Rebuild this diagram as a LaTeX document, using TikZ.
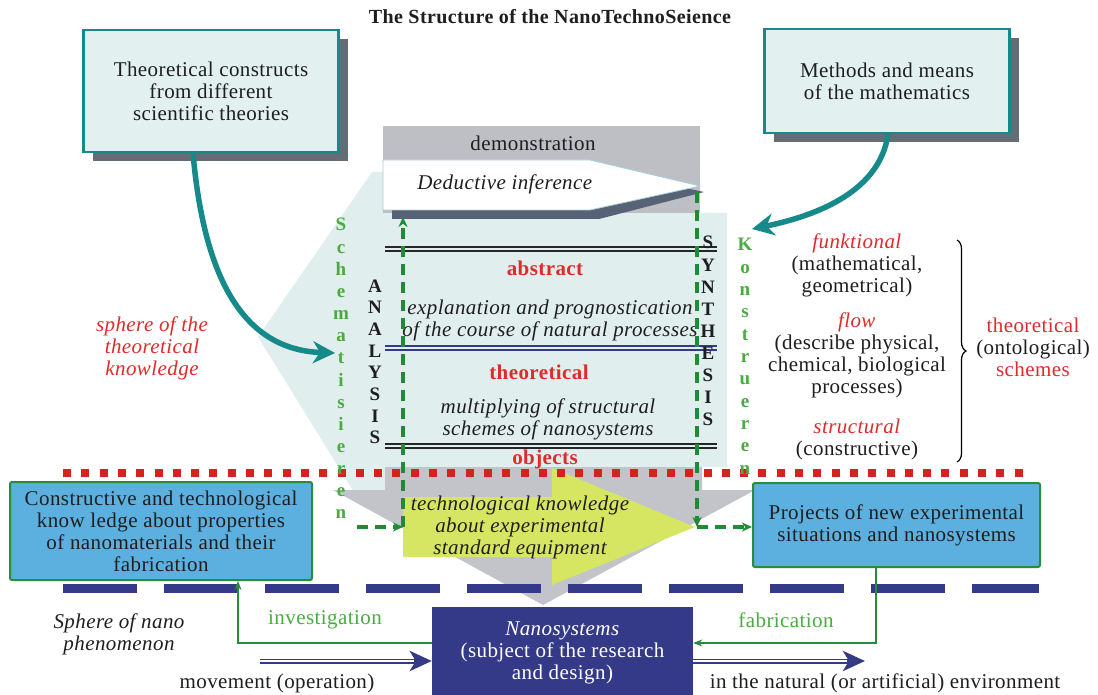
\documentclass[tikz,border=0pt]{standalone}
\usepackage{fontspec}
\setmainfont{Liberation Serif}[LetterSpace=2]
\usetikzlibrary{arrows.meta,positioning,shadows,decorations.pathreplacing}

\definecolor{tealline}{RGB}{22,138,138}
\definecolor{boxcyan}{RGB}{226,240,240}
\definecolor{shadowgrey}{RGB}{100,108,118}
\definecolor{lightcyan}{RGB}{225,238,238}
\definecolor{funnelgrey}{RGB}{194,196,202}
\definecolor{demogrey}{RGB}{190,191,197}
\definecolor{slate}{RGB}{88,98,118}
\definecolor{skyblue}{RGB}{92,176,224}
\definecolor{boxgreen}{RGB}{42,140,58}
\definecolor{navy}{RGB}{52,58,136}
\definecolor{dotred}{RGB}{212,34,30}
\definecolor{textred}{RGB}{222,44,44}
\definecolor{lettergreen}{RGB}{74,172,64}
\definecolor{dashgreen}{RGB}{30,140,52}
\definecolor{yellowgreen}{RGB}{214,230,98}
\definecolor{textdark}{RGB}{30,30,30}

\newcommand{\diagfont}{\fontsize{21}{22}\selectfont}
\newcommand{\letterfont}{\fontsize{19}{19}\selectfont\bfseries}

\tikzset{
	sourcebox/.style={draw=tealline, line width=2.5pt, fill=boxcyan, align=center, text=textdark, font=\diagfont,
		drop shadow={shadow xshift=9pt, shadow yshift=-9pt, fill=shadowgrey, opacity=1}},
	knowbox/.style={draw=boxgreen, line width=2pt, fill=skyblue, rounded corners=2pt, align=center, text=textdark, font=\diagfont},
	levelline/.style={double=lightcyan, double distance=1.4pt, line width=2pt},
	redbold/.style={text=textred, font=\diagfont\bfseries},
	vertletter/.style={font=\letterfont, inner sep=0pt, anchor=base},
	dashgreenarrow/.style={draw=dashgreen, line width=3.2pt, dash pattern=on 11pt off 7pt, -{Stealth[length=10pt,width=9pt]}},
	greenline/.style={draw=boxgreen, line width=1.8pt, -{Stealth[length=9pt,width=7pt]}},
	tealarrow/.style={draw=tealline, line width=5.5pt, -{Stealth[length=22pt,width=22pt,inset=7pt]}},
	navyarrow/.style={draw=navy, line width=5pt, -{Stealth[length=22pt,width=20pt,inset=6pt]}},
}

\begin{document}
\begin{tikzpicture}[x=1pt,y=-1pt, every node/.style={font=\diagfont, text=textdark}]
	\useasboundingbox (0,0) rectangle (1098,695);
	\fill[white] (0,0) rectangle (1098,695);

	% background funnels
	\fill[lightcyan] (372,172) -- (700,172) -- (700,213) -- (727,213) -- (727,467) -- (385,467) -- (385,505) -- (362,505) -- (258,337) -- cycle;
	\fill[funnelgrey] (385,467) -- (702,467) -- (702,490) -- (755,490) -- (543,605) -- (333,490) -- (385,490) -- cycle;
	\fill[demogrey] (383,126) rectangle (700,213);
	\fill[slate] (392,169) -- (599,169) -- (704,192) -- (599,219) -- (392,219) -- cycle;
	\filldraw[fill=white, draw=lightcyan!70!tealline, line width=0.8pt] (383,160) -- (590,160) -- (700,186) -- (590,210) -- (383,210) -- cycle;

	% levels
	\draw[levelline, draw=black!85] (385,249) -- (717,249);
	\draw[levelline, draw=navy] (385,348) -- (717,348);
	\draw[levelline, draw=black!85] (385,446) -- (717,446);

	\fill[yellowgreen] (403,497) -- (552,497) -- (552,468) -- (695,527) -- (552,585) -- (552,557) -- (403,557) -- cycle;

	\draw[dotred, line width=8pt, dash pattern=on 8pt off 10.3pt] (63,473) -- (1030,473);
	\draw[navy, line width=9pt, dash pattern=on 74pt off 27pt] (63,588) -- (1039,588);

	% boxes
	\node[sourcebox, minimum width=255pt, minimum height=122pt] (constructs) at (211,91) {Theoretical constructs\\from different\\scientific theories};
	\node[sourcebox, minimum width=245pt, minimum height=104pt] (mathmeans) at (887,81) {Methods and means\\of the mathematics};
	\node[knowbox, minimum width=302pt, minimum height=98pt] (knowledge) at (161,531) {Constructive and technological\\know ledge about properties\\of nanomaterials and their\\fabrication};
	\node[knowbox, minimum width=287pt, minimum height=84pt] (projects) at (896.5,525) {Projects of new experimental\\situations and nanosystems};
	\node[fill=navy, minimum width=261pt, minimum height=92pt, align=center, text=white] (nano) at (562.5,653) {\textit{Nanosystems}\\(subject of the research\\and design)};

	\node[font=\fontsize{20}{22}\selectfont\bfseries] (title) at (550,17) {The Structure of the NanoTechnoSeience};

	% texts in the scheme
	\node (demo) at (533,143) {demonstration};
	\node (deduct) at (505,184) {\textit{Deductive inference}};
	\node[redbold] (abstract) at (545,268) {abstract};
	\node[align=center, font=\diagfont\itshape] (explain) at (550,320) {explanation and prognostication\\of the course of natural processes};
	\node[redbold] (theoretical) at (539,372) {theoretical};
	\node[align=center, font=\diagfont\itshape] (multiply) at (548,419) {multiplying of structural\\schemes of nanosystems};
	\node[redbold] (objects) at (545,459) {objects};
	\node[align=center, font=\diagfont\itshape] (techknow) at (520,527) {technological knowledge\\about experimental\\standard equipment};

	\foreach \ch [count=\i from 0] in {A,N,A,L,Y,S,I,S}
		\node[vertletter] (analysis\i) at (375,292+21.7*\i) {\ch};
	\foreach \ch [count=\i from 0] in {S,Y,N,T,H,E,S,I,S}
		\node[vertletter] (synthesis\i) at (708,249+22.1*\i) {\ch};
	\foreach \ch [count=\i from 0] in {S,c,h,e,m,a,t,i,s,i,e,r,e,n}
		\node[vertletter, text=lettergreen] (schema\i) at (341,231+22.15*\i) {\ch};
	\foreach \ch [count=\i from 0] in {K,o,n,s,t,r,u,e,r,e,n}
		\node[vertletter, text=lettergreen] (konstr\i) at (745,251+22.3*\i) {\ch};

	% schemes
	\node[align=center] (functional) at (857,265) {\textcolor{textred}{\textit{funktional}}\\(mathematical,\\geometrical)};
	\node[align=center] (flow) at (857,355) {\textcolor{textred}{\textit{flow}}\\(describe physical,\\chemical, biological\\processes)};
	\node[align=center] (structural) at (857,439) {\textcolor{textred}{\textit{structural}}\\(constructive)};
	\coordinate (bracetop) at (957,240);
	\coordinate (bracebot) at (957,462);
	\draw[line width=1.2pt, decorate, decoration={brace, amplitude=9pt}] (bracetop) -- (bracebot);
	\node[align=center] (schemes) at (1033,347) {\textcolor{textred}{theoretical}\\(ontological)\\\textcolor{textred}{schemes}};

	\node[align=center, text=textred, font=\diagfont\itshape] (sphere) at (152,348) {sphere of the\\theoretical\\knowledge};
	\node[align=center, font=\diagfont\itshape] (nanosphere) at (119,634) {Sphere of nano\\phenomenon};

	% teal arrows
	\coordinate (schematip) at (335,353);
	\coordinate (konstrtip) at (752,229);
	\draw[tealarrow] ([xshift=-18pt]constructs.south) .. controls (205,290) and (250,350) .. (schematip);
	\draw[tealarrow] ([xshift=1pt]mathmeans.south) .. controls (880,190) and (820,215) .. (konstrtip);

	% dashed green arrows
	\coordinate (schemain) at (357,527);
	\coordinate (anacorner) at (403,527);
	\coordinate (anatop) at (403,217);
	\coordinate (syntop) at (697,192);
	\coordinate (syncorner) at (697,527);
	\draw[dashgreenarrow] (schemain) -- (anacorner);
	\draw[dashgreenarrow] (anacorner) -- (anatop);
	\draw[dashgreenarrow] (syntop) -- (syncorner);
	\draw[dashgreenarrow] (syncorner) -- (projects.west |- syncorner);

	% investigation and fabrication
	\draw[greenline] ([yshift=10pt]nano.west) -| ([xshift=77pt]knowledge.south);
	\draw[greenline] ([xshift=-20.5pt]projects.south) |- ([yshift=10pt]nano.east);
	\node[text=lettergreen] (investigation) at (325,620) {investigation};
	\node[text=lettergreen] (fabrication) at (786,620) {fabrication};

	% movement
	\coordinate (movestart) at (260,661);
	\coordinate (envend) at (865,661);
	\draw[navyarrow] (movestart) -- (nano.west |- movestart);
	\draw[white, line width=1.2pt, shorten >=18pt] (movestart) -- (nano.west |- movestart);
	\draw[navyarrow] (nano.east |- envend) -- (envend);
	\draw[white, line width=1.2pt, shorten >=18pt] (nano.east |- envend) -- (envend);
	\node (movement) at (277,683) {movement (operation)};
	\node (environment) at (885,683) {in the natural (or artificial) environment};
\end{tikzpicture}
\end{document}
